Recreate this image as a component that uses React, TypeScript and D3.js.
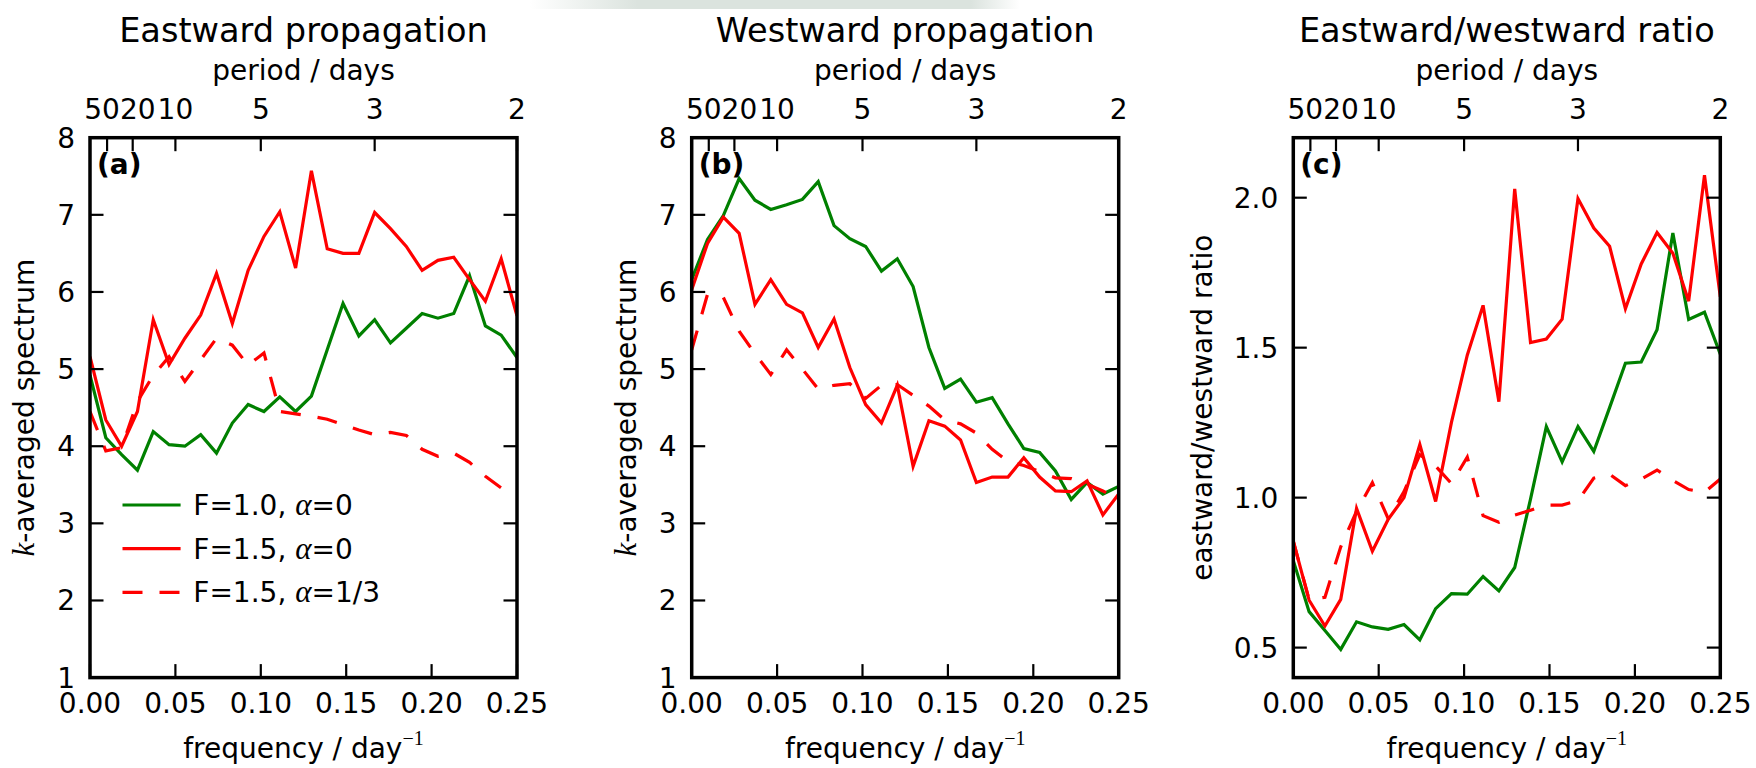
import React from "react";
import * as d3 from "d3";

// frequency grid (day^-1)
const freqs = [
  0, 0.009259, 0.018519, 0.027778, 0.037037, 0.046296, 0.055556, 0.064815,
  0.074074, 0.083333, 0.092593, 0.101852, 0.111111, 0.12037, 0.12963, 0.138889,
  0.148148, 0.157407, 0.166667, 0.175926, 0.185185, 0.194444, 0.203704,
  0.212963, 0.222222, 0.231481, 0.240741, 0.25,
];

const periodTicks = [50, 20, 10, 5, 3, 2];
const freqTicks = [0, 0.05, 0.1, 0.15, 0.2, 0.25];
const spectrumTicks = [1, 2, 3, 4, 5, 6, 7, 8];
const ratioTicks = [0.5, 1.0, 1.5, 2.0];

// (a) eastward propagation
const eastF10a0 = [4.92, 4.11, 3.89, 3.69, 4.19, 4.02, 4.0, 4.15, 3.91, 4.3, 4.54, 4.45, 4.64, 4.45, 4.65, 5.25, 5.85, 5.43, 5.64, 5.34, 5.53, 5.72, 5.66, 5.72, 6.21, 5.56, 5.44, 5.15];
const eastF15a0 = [5.16, 4.34, 4.0, 4.45, 5.64, 5.06, 5.4, 5.7, 6.24, 5.59, 6.28, 6.72, 7.04, 6.31, 7.57, 6.56, 6.5, 6.5, 7.03, 6.82, 6.59, 6.28, 6.41, 6.45, 6.16, 5.88, 6.43, 5.69];
const eastF15a13 = [4.45, 3.94, 3.98, 4.58, 4.92, 5.16, 4.84, 5.12, 5.4, 5.31, 5.05, 5.21, 4.45, 4.42, 4.39, 4.35, 4.28, 4.21, 4.15, 4.18, 4.14, 3.96, 3.87, 3.91, 3.79, 3.61, 3.46, 3.47];

// (b) westward propagation
const westF10a0 = [6.16, 6.68, 6.99, 7.47, 7.19, 7.07, 7.13, 7.2, 7.43, 6.86, 6.69, 6.59, 6.27, 6.43, 6.07, 5.28, 4.75, 4.87, 4.57, 4.63, 4.29, 3.97, 3.92, 3.68, 3.31, 3.53, 3.38, 3.48];
const westF15a0 = [6.03, 6.63, 6.97, 6.76, 5.84, 6.16, 5.84, 5.73, 5.28, 5.65, 5.02, 4.54, 4.3, 4.79, 3.74, 4.33, 4.26, 4.08, 3.53, 3.6, 3.6, 3.85, 3.6, 3.42, 3.41, 3.55, 3.11, 3.38];
const westF15a13 = [5.25, 5.97, 5.93, 5.49, 5.2, 4.93, 5.25, 5.0, 4.74, 4.79, 4.81, 4.62, 4.79, 4.8, 4.66, 4.52, 4.34, 4.29, 4.17, 3.96, 3.8, 3.75, 3.67, 3.59, 3.58, 3.51, 3.42, 3.31];

// (c) eastward / westward ratio
const ratioF10a0 = [0.79, 0.62, 0.557, 0.494, 0.586, 0.569, 0.561, 0.577, 0.526, 0.63, 0.68, 0.678, 0.737, 0.689, 0.767, 0.995, 1.237, 1.119, 1.237, 1.154, 1.3, 1.448, 1.452, 1.56, 1.882, 1.594, 1.618, 1.478];
const ratioF15a0 = [0.855, 0.658, 0.572, 0.661, 0.964, 0.821, 0.928, 1.0, 1.177, 0.987, 1.251, 1.475, 1.641, 1.32, 2.029, 1.517, 1.529, 1.595, 1.997, 1.899, 1.838, 1.63, 1.779, 1.884, 1.815, 1.655, 2.075, 1.67];
const ratioF15a13 = [0.855, 0.66, 0.668, 0.836, 0.955, 1.05, 0.93, 1.02, 1.143, 1.105, 1.047, 1.135, 0.94, 0.918, 0.942, 0.958, 0.975, 0.975, 0.99, 1.065, 1.078, 1.04, 1.062, 1.092, 1.057, 1.027, 1.018, 1.062];

const legendLabels = ["F=1.0, ", "F=1.5, ", "F=1.5, "];
const legendMath = ["=0", "=0", "=1/3"];

const GREEN = "#008000";
const RED = "#ff0000";
const FONT = "DejaVu Sans";
const SERIF = "Liberation Serif";
const TICK_FS = 28;
const DIGIT_W = 0.636 * TICK_FS;

const Y_TOP = 137.7;
const Y_BOT = 677.6;

type Series = { values: number[]; color: string; dashed: boolean };

type PanelProps = {
  id: string;
  x0: number;
  x1: number;
  title: string;
  tag: string;
  yDomain: [number, number];
  yTicks: number[];
  yFmt: (v: number) => string;
  yLabel: React.ReactNode;
  yLabelX: number;
  series: Series[];
  legend?: boolean;
};

// place crowded tick labels side by side instead of on top of each other
function spreadLabels(centers: number[], widths: number[]): number[] {
  const pos = centers.slice();
  for (let iter = 0; iter < 20; iter++) {
    for (let i = 1; i < pos.length; i++) {
      const overlap = pos[i - 1] + widths[i - 1] / 2 - (pos[i] - widths[i] / 2);
      if (overlap > 0) {
        pos[i - 1] -= overlap / 2;
        pos[i] += overlap / 2;
      }
    }
  }
  return pos;
}

function Panel(p: PanelProps) {
  const x = d3.scaleLinear().domain([0, 0.25]).range([p.x0, p.x1]);
  const y = d3.scaleLinear().domain(p.yDomain).range([Y_BOT, Y_TOP]);
  const line = d3
    .line<number>()
    .x((_, i) => x(freqs[i]))
    .y((v) => y(v));
  const cx = (p.x0 + p.x1) / 2;
  const cy = (Y_TOP + Y_BOT) / 2;
  const TL = 13.5;
  const tickW = 2.2;
  const periodX = periodTicks.map((P) => x(1 / (2 * P)));
  const periodLabelX = spreadLabels(
    periodX,
    periodTicks.map((P) => String(P).length * DIGIT_W)
  );
  return (
    <g>
      <defs>
        <clipPath id={"clip-" + p.id}>
          <rect x={p.x0} y={Y_TOP} width={p.x1 - p.x0} height={Y_BOT - Y_TOP} />
        </clipPath>
      </defs>
      {/* title and top axis label */}
      <text x={cx} y={41.7} textAnchor="middle" fontFamily={FONT} fontSize={33.6}>
        {p.title}
      </text>
      <text x={cx} y={80} textAnchor="middle" fontFamily={FONT} fontSize={TICK_FS}>
        period / days
      </text>
      {/* data lines */}
      <g clipPath={`url(#clip-${p.id})`}>
        {p.series.map((s, i) => (
          <path
            key={i}
            d={line(s.values) || ""}
            fill="none"
            stroke={s.color}
            strokeWidth={3.2}
            strokeDasharray={s.dashed ? "20,17" : undefined}
            strokeLinejoin="miter"
          />
        ))}
      </g>
      {/* bottom ticks + labels */}
      {freqTicks.map((t) => (
        <g key={"fx" + t}>
          <line x1={x(t)} x2={x(t)} y1={Y_BOT} y2={Y_BOT - TL} stroke="#000" strokeWidth={tickW} />
          <text x={x(t)} y={713.3} textAnchor="middle" fontFamily={FONT} fontSize={TICK_FS}>
            {t.toFixed(2)}
          </text>
        </g>
      ))}
      {/* top period ticks */}
      {periodTicks.map((P, i) => (
        <g key={"pt" + P}>
          <line
            x1={periodX[i]}
            x2={periodX[i]}
            y1={Y_TOP}
            y2={Y_TOP + TL}
            stroke="#000"
            strokeWidth={tickW}
          />
          <text x={periodLabelX[i]} y={119.3} textAnchor="middle" fontFamily={FONT} fontSize={TICK_FS}>
            {String(P)}
          </text>
        </g>
      ))}
      {/* y ticks */}
      {p.yTicks.map((t) => (
        <g key={"yt" + t}>
          <line x1={p.x0} x2={p.x0 + TL} y1={y(t)} y2={y(t)} stroke="#000" strokeWidth={tickW} />
          <line x1={p.x1} x2={p.x1 - TL} y1={y(t)} y2={y(t)} stroke="#000" strokeWidth={tickW} />
          <text x={p.x0 - 15} y={y(t) + 10} textAnchor="end" fontFamily={FONT} fontSize={TICK_FS}>
            {p.yFmt(t)}
          </text>
        </g>
      ))}
      {/* frame */}
      <rect
        x={p.x0}
        y={Y_TOP}
        width={p.x1 - p.x0}
        height={Y_BOT - Y_TOP}
        fill="none"
        stroke="#000"
        strokeWidth={3.5}
      />
      {/* panel tag */}
      <text x={p.x0 + 7} y={173.5} fontFamily={FONT} fontSize={28} fontWeight="bold">
        {p.tag}
      </text>
      {/* x label */}
      <text x={cx} y={758.3} textAnchor="middle" fontFamily={FONT} fontSize={TICK_FS}>
        frequency / day
        <tspan dy={-13} fontFamily={SERIF} fontSize={20}>
          −1
        </tspan>
      </text>
      {/* y label */}
      <text
        transform={`translate(${p.yLabelX},${cy}) rotate(-90)`}
        textAnchor="middle"
        fontFamily={FONT}
        fontSize={TICK_FS}
      >
        {p.yLabel}
      </text>
      {p.legend &&
        p.series.map((s, i) => {
          const ly = 505 + i * 43.7;
          return (
            <g key={"lg" + i}>
              <line
                x1={p.x0 + 32.5}
                x2={p.x0 + 90.6}
                y1={ly}
                y2={ly}
                stroke={s.color}
                strokeWidth={3.2}
                strokeDasharray={s.dashed ? "20,17" : undefined}
              />
              <text x={p.x0 + 103.3} y={ly + 10} fontFamily={FONT} fontSize={TICK_FS}>
                {legendLabels[i]}
                <tspan fontFamily={SERIF} fontStyle="italic" fontSize={31}>
                  α
                </tspan>
                {legendMath[i]}
              </text>
            </g>
          );
        })}
    </g>
  );
}

export default function App() {
  const spectrumLabel = (
    <>
      <tspan fontFamily={SERIF} fontStyle="italic" fontSize={31}>
        k
      </tspan>
      -averaged spectrum
    </>
  );
  return (
    <svg
      width={1756}
      height={768}
      viewBox="0 0 1756 768"
      style={{ position: "absolute", left: 0, top: 0, display: "block", background: "#fff" }}
    >
      <defs>
        <linearGradient id="topband" x1="0" x2="1" y1="0" y2="0">
          <stop offset="0" stopColor="#dbe3de" stopOpacity={0} />
          <stop offset="0.22" stopColor="#dbe3de" stopOpacity={1} />
          <stop offset="0.9" stopColor="#dbe3de" stopOpacity={1} />
          <stop offset="1" stopColor="#dbe3de" stopOpacity={0} />
        </linearGradient>
      </defs>
      <rect x={0} y={0} width={1756} height={768} fill="#fff" />
      <rect x={530} y={0} width={490} height={9} fill="url(#topband)" />
      <Panel
        id="a"
        x0={90}
        x1={517}
        title="Eastward propagation"
        tag="(a)"
        yDomain={[1, 8]}
        yTicks={spectrumTicks}
        yFmt={(v) => String(v)}
        yLabel={spectrumLabel}
        yLabelX={34}
        legend
        series={[
          { values: eastF10a0, color: GREEN, dashed: false },
          { values: eastF15a0, color: RED, dashed: false },
          { values: eastF15a13, color: RED, dashed: true },
        ]}
      />
      <Panel
        id="b"
        x0={691.7}
        x1={1118.7}
        title="Westward propagation"
        tag="(b)"
        yDomain={[1, 8]}
        yTicks={spectrumTicks}
        yFmt={(v) => String(v)}
        yLabel={spectrumLabel}
        yLabelX={636}
        series={[
          { values: westF10a0, color: GREEN, dashed: false },
          { values: westF15a0, color: RED, dashed: false },
          { values: westF15a13, color: RED, dashed: true },
        ]}
      />
      <Panel
        id="c"
        x0={1293.3}
        x1={1720.3}
        title="Eastward/westward ratio"
        tag="(c)"
        yDomain={[0.4, 2.2]}
        yTicks={ratioTicks}
        yFmt={(v) => v.toFixed(1)}
        yLabel={"eastward/westward ratio"}
        yLabelX={1212}
        series={[
          { values: ratioF10a0, color: GREEN, dashed: false },
          { values: ratioF15a0, color: RED, dashed: false },
          { values: ratioF15a13, color: RED, dashed: true },
        ]}
      />
    </svg>
  );
}
